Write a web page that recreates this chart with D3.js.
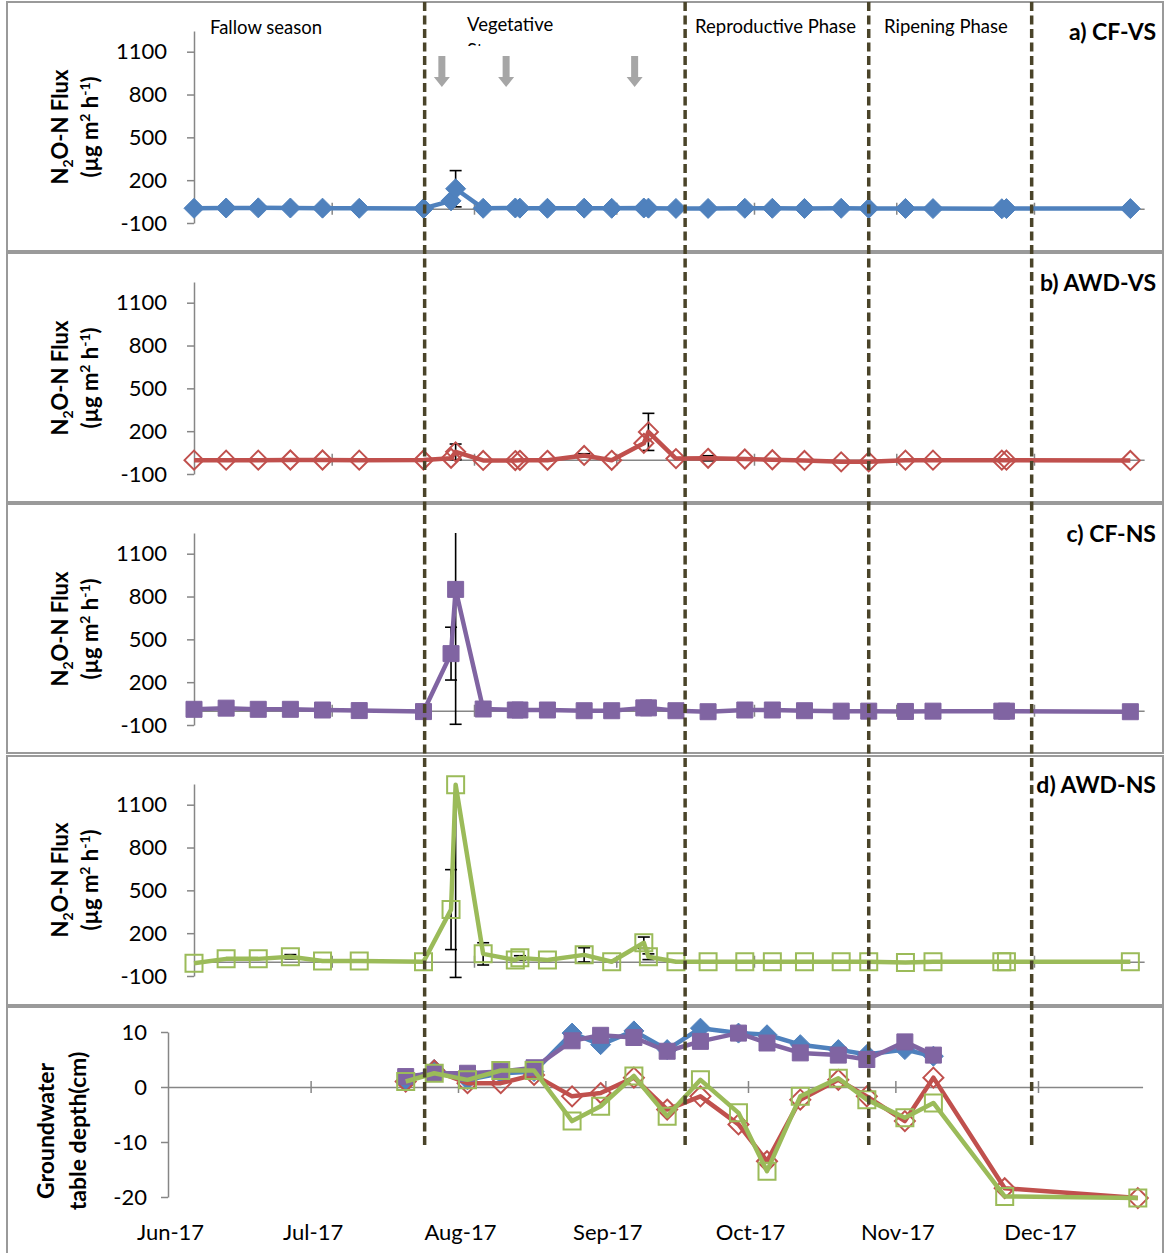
<!DOCTYPE html>
<html>
<head>
<meta charset="utf-8">
<style>
  body { margin: 0; background: #fff; }
  svg text { font-family: Lato, "Open Sans", sans-serif; }
</style>
</head>
<body>
<svg id="chart" width="1167" height="1253"></svg>

<script src="https://d3js.org/d3.v7.min.js"></script>
<script>
    // sampling dates for the flux panels
    const fluxDates = ["2017-06-01", "2017-06-08", "2017-06-15", "2017-06-22", "2017-06-29",
        "2017-07-07", "2017-07-21", "2017-07-27", "2017-07-28", "2017-08-03", "2017-08-10",
        "2017-08-11", "2017-08-17", "2017-08-25", "2017-08-31", "2017-09-07", "2017-09-08",
        "2017-09-14", "2017-09-21", "2017-09-29", "2017-10-05", "2017-10-12", "2017-10-20",
        "2017-10-26", "2017-11-03", "2017-11-09", "2017-11-24", "2017-11-25", "2017-12-22"]

    // N2O-N flux (ug m-2 h-1) and error bars
    const cfvs = [3, 5, 6, 5, 4, 3, 2, 55, 140, 3, 5, 4, 3, 4, 3, 5, 4, 2, 2, 3, 3, 2, 3, 2, 2, 1, 0, 1, 1]
    const cfvsErr = [0, 0, 0, 0, 0, 0, 0, 0, 127, 0, 0, 0, 0, 0, 0, 0, 0, 0, 0, 0, 0, 0, 0, 0, 0, 0, 0, 0, 0]
    const awdvs = [-3, -3, -3, -2, -2, -3, -2, 10, 55, -5, -6, -4, -4, 30, -4, 115, 195, 8, 10, 5, 0, -5, -15, -15, -3, -3, -3, -3, -5]
    const awdvsErr = [0, 0, 0, 0, 0, 0, 0, 0, 55, 0, 0, 0, 0, 12, 0, 0, 130, 0, 18, 0, 0, 0, 0, 0, 0, 0, 0, 0, 0]
    const cfns = [10, 18, 10, 10, 5, 1, -6, 400, 850, 12, 5, 5, 5, 0, 0, 20, 20, 0, -7, 5, 5, 0, -3, -3, -5, -3, -3, -3, -7]
    const cfnsErr = [0, 0, 0, 0, 0, 0, 0, 185, 945, 0, 0, 0, 0, 0, 0, 0, 0, 0, 0, 0, 0, 0, 0, 0, 0, 0, 0, 0, 0]
    const awdns = [-10, 20, 20, 35, 5, 5, 0, 365, 1240, 55, 12, 27, 12, 48, 0, 133, 35, 0, 0, 0, 0, 0, 0, 0, -5, 0, 0, 0, 0]
    const awdnsErr = [0, 0, 0, 15, 0, 0, 0, 280, 1350, 78, 0, 15, 0, 50, 0, 40, 20, 0, 0, 0, 0, 0, 0, 0, 0, 0, 0, 0, 0]

    // groundwater table depth (cm)
    const gwDates = ["2017-07-21", "2017-07-27", "2017-08-03", "2017-08-10", "2017-08-17",
        "2017-08-25", "2017-08-31", "2017-09-07", "2017-09-14", "2017-09-21", "2017-09-29",
        "2017-10-05", "2017-10-12", "2017-10-20", "2017-10-26", "2017-11-03", "2017-11-09",
        "2017-11-24", "2017-12-22"]
    const gwCfvs = [1.0, 3.2, 1.3, 2.5, 2.8, 9.8, 7.7, 10.2, 6.8, 10.7, 9.8, 9.5, 7.7, 6.8, 5.9, 6.8, 5.6]
    const gwAwdvs = [1.0, 3.0, 0.7, 0.7, 2.2, -1.7, -1.1, 1.7, -4.1, -1.7, -6.8, -13.5, -2.3, 1.3, -1.7, -6.2, 1.7, -18.4, -20.2]
    const gwCfns = [1.9, 2.5, 2.5, 2.8, 3.5, 8.4, 9.4, 9.0, 6.5, 8.3, 9.8, 8.0, 6.2, 5.8, 5.0, 8.2, 5.8]
    const gwAwdns = [1.0, 2.5, 1.3, 3.0, 3.0, -6.2, -3.5, 2.0, -5.3, 1.3, -4.7, -15.3, -1.7, 1.6, -2.3, -5.6, -2.9, -19.9, -20.2]

    // axes, phases, annotations
    const fluxTicks = [-100, 200, 500, 800, 1100]
    const gwTicks = [-20, -10, 0, 10]
    const monthTicks = ["2017-06-01", "2017-07-01", "2017-08-01", "2017-09-01", "2017-10-01", "2017-11-01", "2017-12-01"]
    const monthLabels = ["Jun-17", "Jul-17", "Aug-17", "Sep-17", "Oct-17", "Nov-17", "Dec-17"]
    const phaseLines = ["2017-07-21T06:00", "2017-09-16T00:00", "2017-10-26T00:00", "2017-11-30T12:00"]
    const phaseNames = ["Fallow season", "Vegetative", "Reproductive Phase", "Ripening Phase"]
    const arrowDates = ["2017-07-25", "2017-08-08", "2017-09-05"]
    const panelNames = ["a) CF-VS", "b) AWD-VS", "c) CF-NS", "d) AWD-NS"]

    const parseDay = d3.timeParse("%Y-%m-%d")
    const parseTime = d3.timeParse("%Y-%m-%dT%H:%M")
    const plainNum = function (d) { return String(d) }   // "1100", "-100" like the original

    const svg = d3.select('#chart')
    const axisGray = '#868686'
    const colors = { blue: '#4f81bd', red: '#c0504d', purple: '#8064a2', green: '#9bbb59' }

    // flux panels and groundwater panel have slightly different date axes
    const xF = d3.scaleTime()
        .domain([parseDay("2017-06-01"), parseDay("2017-12-25")])
        .range([194, 194 + 207 * 4.59])
    const xB = d3.scaleTime()
        .domain([parseDay("2017-06-01"), parseDay("2017-12-23")])
        .range([168, 168 + 205 * 4.754])

    const panelTop = [2, 253, 504, 756, 1007]
    const panelStep = 251

    // panel frames
    panelTop.forEach(function (t, i) {
        svg.append('rect')
            .attr('x', 7).attr('y', t)
            .attr('width', 1156).attr('height', i < 4 ? 249 : 252)
            .attr('fill', 'none')
            .attr('stroke', '#9a9a9a')
            .attr('stroke-width', 2)
    })

    function diamond(r) {
        return 'M0,' + (-r) + 'L' + r + ',0L0,' + r + 'L' + (-r) + ',0Z'
    }
    function square(s) {
        let h = s / 2
        return 'M' + (-h) + ',' + (-h) + 'h' + s + 'v' + s + 'h' + (-s) + 'Z'
    }

    function styleAxis(g) {
        g.selectAll('path.domain').attr('stroke', axisGray).attr('stroke-width', 1.5)
        g.selectAll('.tick line').attr('stroke', axisGray).attr('stroke-width', 1.5)
        g.selectAll('.tick text').attr('fill', '#000').style('font-size', '22px')
    }

    const series = [
        { vals: cfvs, err: cfvsErr, color: colors.blue, mark: 'diamond', filled: true },
        { vals: awdvs, err: awdvsErr, color: colors.red, mark: 'diamond', filled: false },
        { vals: cfns, err: cfnsErr, color: colors.purple, mark: 'square', filled: true },
        { vals: awdns, err: awdnsErr, color: colors.green, mark: 'square', filled: false }
    ]

    const defs = svg.append('defs')

    series.forEach(function (s, i) {
        let off = panelStep * i
        let y = d3.scaleLinear().domain([-100, 1245]).range([223 + off, 31 + off])
        let g = svg.append('g')

        defs.append('clipPath').attr('id', 'clip' + i)
            .append('rect')
            .attr('x', 180).attr('y', 31 + off)
            .attr('width', 980).attr('height', 215)

        // y axis
        let ya = g.append('g')
            .attr('transform', 'translate(194,0)')
            .call(d3.axisLeft(y).tickValues(fluxTicks).tickFormat(plainNum)
                .tickSize(7).tickSizeOuter(0).tickPadding(20))
        styleAxis(ya)

        // zero line with crossing month ticks
        let xa = g.append('g')
            .attr('transform', 'translate(0,' + y(0) + ')')
            .call(d3.axisBottom(xF).tickValues(monthTicks.slice(1).map(parseDay))
                .tickSize(6).tickSizeOuter(0).tickFormat(''))
        xa.selectAll('.tick line').attr('y1', -6)
        styleAxis(xa)

        let pts = fluxDates.map(function (d, k) {
            return { x: xF(parseDay(d)), v: s.vals[k], e: s.err[k] }
        })

        // error bars
        let eb = g.append('g').attr('clip-path', 'url(#clip' + i + ')')
        pts.filter(function (p) { return p.e > 0 }).forEach(function (p) {
            let top = y(p.v + p.e), bot = y(p.v - p.e)
            eb.append('line').attr('x1', p.x).attr('x2', p.x).attr('y1', top).attr('y2', bot)
                .attr('stroke', '#000').attr('stroke-width', 1.6)
            ;[top, bot].forEach(function (yy) {
                eb.append('line').attr('x1', p.x - 6).attr('x2', p.x + 6).attr('y1', yy).attr('y2', yy)
                    .attr('stroke', '#000').attr('stroke-width', 1.6)
            })
        })

        let line = d3.line().x(function (p) { return p.x }).y(function (p) { return y(p.v) })
        g.append('path')
            .datum(pts)
            .attr('d', line)
            .attr('fill', 'none')
            .attr('stroke', s.color)
            .attr('stroke-width', 4.5)
            .attr('stroke-linejoin', 'round')

        g.selectAll('path.mk')
            .data(pts)
            .join('path')
            .attr('class', 'mk')
            .attr('transform', function (p) { return 'translate(' + p.x + ',' + y(p.v) + ')' })
            .attr('d', s.mark === 'diamond' ? diamond(s.filled ? 10 : 9.5) : square(s.filled ? 16 : 17))
            .attr('fill', s.filled ? s.color : 'none')
            .attr('stroke', s.color)
            .attr('stroke-width', s.filled ? 1 : 2)

        // panel label
        g.append('text')
            .attr('x', 1156).attr('y', 40 + off)
            .attr('text-anchor', 'end')
            .style('font-size', '23px').style('font-weight', 'bold')
            .text(panelNames[i])

        // y title, two lines
        let cy = 127 + off
        let t1 = g.append('text')
            .attr('transform', 'translate(68,' + cy + ') rotate(-90)')
            .attr('text-anchor', 'middle')
            .style('font-size', '22px').style('font-weight', 'bold')
        t1.append('tspan').text('N')
        t1.append('tspan').attr('dy', 5).style('font-size', '14px').text('2')
        t1.append('tspan').attr('dy', -5).text('O-N Flux')
        let t2 = g.append('text')
            .attr('transform', 'translate(98,' + cy + ') rotate(-90)')
            .attr('text-anchor', 'middle')
            .style('font-size', '22px').style('font-weight', 'bold')
        t2.append('tspan').text('(µg m')
        t2.append('tspan').attr('dy', -8).style('font-size', '14px').text('2')
        t2.append('tspan').attr('dy', 8).text(' h')
        t2.append('tspan').attr('dy', -8).style('font-size', '14px').text('-1')
        t2.append('tspan').attr('dy', 8).text(')')
    })

    // groundwater panel
    const yB = d3.scaleLinear().domain([-20, 10]).range([1197, 1032])
    const gb = svg.append('g')

    let yba = gb.append('g')
        .attr('transform', 'translate(168,0)')
        .call(d3.axisLeft(yB).tickValues(gwTicks).tickFormat(plainNum)
            .tickSize(7).tickSizeOuter(0).tickPadding(14))
    styleAxis(yba)

    let xba = gb.append('g')
        .attr('transform', 'translate(0,' + yB(0) + ')')
        .call(d3.axisBottom(xB).tickValues(monthTicks.slice(1).map(parseDay))
            .tickSize(6).tickSizeOuter(0).tickFormat(''))
    xba.selectAll('.tick line').attr('y1', -6)
    styleAxis(xba)

    let xbl = gb.append('g')
        .attr('transform', 'translate(2,1221)')
        .call(d3.axisBottom(xB).tickValues(monthTicks.map(parseDay))
            .tickSize(0).tickPadding(3)
            .tickFormat(function (d, i) { return monthLabels[i] }))
    xbl.select('path.domain').remove()
    styleAxis(xbl)

    const gwSeries = [
        { vals: gwCfvs, color: colors.blue, mark: 'diamond', filled: true },
        { vals: gwAwdvs, color: colors.red, mark: 'diamond', filled: false },
        { vals: gwCfns, color: colors.purple, mark: 'square', filled: true },
        { vals: gwAwdns, color: colors.green, mark: 'square', filled: false }
    ]
    gwSeries.forEach(function (s) {
        let pts = s.vals.map(function (v, k) { return { x: xB(parseDay(gwDates[k])), v: v } })
        let line = d3.line().x(function (p) { return p.x }).y(function (p) { return yB(p.v) })
        gb.append('path')
            .datum(pts)
            .attr('d', line)
            .attr('fill', 'none')
            .attr('stroke', s.color)
            .attr('stroke-width', 4.5)
            .attr('stroke-linejoin', 'round')
        gb.append('g').selectAll('path')
            .data(pts)
            .join('path')
            .attr('transform', function (p) { return 'translate(' + p.x + ',' + yB(p.v) + ')' })
            .attr('d', s.mark === 'diamond' ? diamond(10) : square(s.filled ? 16 : 17))
            .attr('fill', s.filled ? s.color : 'none')
            .attr('stroke', s.color)
            .attr('stroke-width', s.filled ? 1 : 2)
    })

    gb.append('text')
        .attr('transform', 'translate(54,1131) rotate(-90)')
        .attr('text-anchor', 'middle')
        .style('font-size', '23px').style('font-weight', 'bold')
        .text('Groundwater')
    gb.append('text')
        .attr('transform', 'translate(86,1131) rotate(-90)')
        .attr('text-anchor', 'middle')
        .style('font-size', '23px').style('font-weight', 'bold')
        .text('table depth(cm)')

    // phase labels and fertiliser arrows in the top panel
    const phaseX = [210, 467, 695, 884]
    const phaseY = [34, 31, 33, 33]
    phaseNames.forEach(function (n, i) {
        svg.append('text')
            .attr('x', phaseX[i]).attr('y', phaseY[i])
            .style('font-size', '18.5px')
            .text(n)
    })
    defs.append('clipPath').attr('id', 'stageClip')
        .append('rect').attr('x', 440).attr('y', 36).attr('width', 150).attr('height', 10)
    svg.append('text')
        .attr('x', 467).attr('y', 57)
        .attr('clip-path', 'url(#stageClip)')
        .style('font-size', '18.5px')
        .text('Stage')

    arrowDates.forEach(function (d) {
        let x = xF(parseDay(d))
        svg.append('path')
            .attr('d', 'M' + (x - 3.5) + ',56 h7 v21 h4.5 l-8,10 l-8,-10 h4.5 Z')
            .attr('fill', '#a6a6a6')
    })

    // dashed phase boundaries across all panels
    phaseLines.forEach(function (d) {
        let x = xF(parseTime(d))
        svg.append('line')
            .attr('x1', x).attr('x2', x)
            .attr('y1', 2).attr('y2', 1145)
            .attr('stroke', '#4a4429')
            .attr('stroke-width', 3.5)
            .attr('stroke-dasharray', '9,4.5')
    })
</script>
</body>
</html>
